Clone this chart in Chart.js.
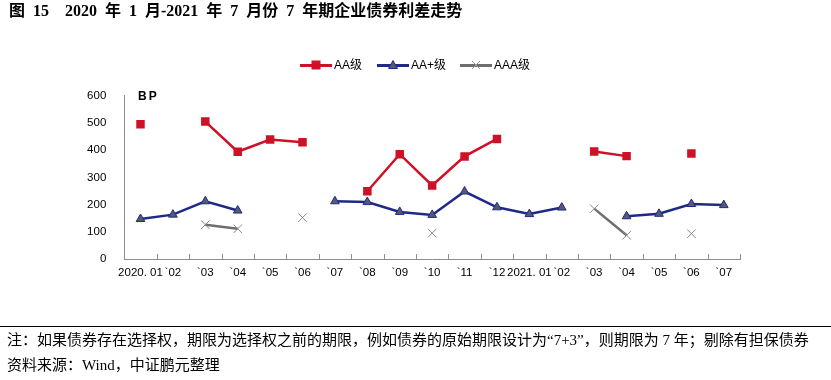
<!DOCTYPE html>
<html>
<head>
<meta charset="utf-8">
<script src="https://cdn.jsdelivr.net/npm/chart.js@4.4.1/dist/chart.umd.min.js"></script>
<style>
  html,body{margin:0;padding:0;background:#fff;}
  body{width:831px;height:380px;position:relative;overflow:hidden;font-family:"Liberation Sans","Noto Sans CJK SC",sans-serif;}
  #wrap{position:absolute;left:0;top:0;width:831px;height:380px;}
  .abs{position:absolute;white-space:nowrap;}
  #title{left:9px;top:1px;font-family:"Liberation Serif","Noto Sans CJK SC",serif;font-weight:bold;font-size:16px;line-height:20px;color:#000;word-spacing:4px;}
  #bp{left:138px;top:88px;font-size:12px;font-weight:bold;letter-spacing:2px;color:#000;line-height:16px;}
  .lg-line{position:absolute;height:3px;}
  .lg-text{position:absolute;font-size:12px;line-height:14px;color:#000;}
  #rule{position:absolute;left:0;top:326px;width:831px;height:1px;background:#000;}
  .note{font-family:"Liberation Serif","Noto Sans CJK SC",serif;font-size:15px;line-height:18px;color:#000;left:7px;}
</style>
</head>
<body>
<div id="wrap"><canvas id="c" width="831" height="380"></canvas></div>
<div id="title" class="abs">图 15<span style="display:inline-block;width:16px"></span>2020 年 1 月-2021 年 7 月份 7 年期企业债券利差走势</div>
<div id="bp" class="abs">BP</div>
<div id="legend"></div>
<div id="rule"></div>
<div class="abs note" style="top:331px">注：如果债券存在选择权，期限为选择权之前的期限，例如债券的原始期限设计为“7+3”，则期限为 7 年；剔除有担保债券</div>
<div class="abs note" style="top:356px">资料来源：Wind，中证鹏元整理</div>
<script>
const categories = ['2020. 01','`02','`03','`04','`05','`06','`07','`08','`09','`10','`11','`12','2021. 01','`02','`03','`04','`05','`06','`07'];
const seriesNames = ['AA级','AA+级','AAA级'];
const aa     = [495,null,505,394,439,429,null,249,385,270,377,441,null,null,395,378,null,388,null];
const aaPlus = [147,163,212,178,null,null,212,209,173,162,248,190,165,189,null,157,166,202,198];
const aaa    = [null,null,126,111,null,152,null,null,null,95,null,null,null,null,185,87,null,93,null];
const yTicks = [0,100,200,300,400,500,600];

const RED = '#CE1126', NAVY = '#1F2A86', GRAY = '#6E6E6E', AXIS = '#8C8C8C';

// HTML legend
const legendItems = [
  {name: seriesNames[0], color: RED, x: 300, marker: 'sq'},
  {name: seriesNames[1], color: NAVY, x: 377, marker: 'tri'},
  {name: seriesNames[2], color: GRAY, x: 460, marker: 'x'}
];
const lg = document.getElementById('legend');
legendItems.forEach(it => {
  const ly = 65;
  const line = document.createElement('div');
  line.className = 'lg-line';
  line.style.cssText = `left:${it.x}px;top:${ly-1.5}px;width:32px;background:${it.color};`;
  lg.appendChild(line);
  const svgNS = 'http://www.w3.org/2000/svg';
  const svg = document.createElementNS(svgNS, 'svg');
  svg.setAttribute('width', 12); svg.setAttribute('height', 12);
  svg.style.cssText = `position:absolute;left:${it.x+16-6}px;top:${ly-6}px;`;
  let shape;
  if (it.marker === 'sq') {
    shape = document.createElementNS(svgNS, 'rect');
    shape.setAttribute('x', 1.5); shape.setAttribute('y', 1.5); shape.setAttribute('width', 9); shape.setAttribute('height', 9);
    shape.setAttribute('fill', RED);
  } else if (it.marker === 'tri') {
    shape = document.createElementNS(svgNS, 'polygon');
    shape.setAttribute('points', '6,1.5 10.5,9.5 1.5,9.5');
    shape.setAttribute('fill', '#555A6E'); shape.setAttribute('stroke', NAVY); shape.setAttribute('stroke-width', 1);
  } else {
    shape = document.createElementNS(svgNS, 'path');
    shape.setAttribute('d', 'M2,2 L10,10 M10,2 L2,10');
    shape.setAttribute('stroke', '#9a9a9a'); shape.setAttribute('stroke-width', 1);
  }
  svg.appendChild(shape);
  lg.appendChild(svg);
  const t = document.createElement('div');
  t.className = 'lg-text';
  t.style.cssText = `left:${it.x+34}px;top:${ly-7}px;`;
  t.textContent = it.name;
  lg.appendChild(t);
});

const innerTicks = {
  id: 'innerTicks',
  afterDraw(chart) {
    const x = chart.scales.x, ctx = chart.ctx, bottom = chart.chartArea.bottom;
    const w = x.getPixelForValue(1) - x.getPixelForValue(0);
    ctx.save();
    ctx.strokeStyle = AXIS; ctx.lineWidth = 1;
    for (let i = 1; i <= categories.length; i++) {
      const px = Math.round(x.getPixelForValue(i - 1) + w / 2) + 0.5;
      ctx.beginPath(); ctx.moveTo(px, bottom); ctx.lineTo(px, bottom - 5); ctx.stroke();
    }
    ctx.restore();
  }
};

new Chart(document.getElementById('c'), {
  type: 'line',
  data: {
    labels: categories,
    datasets: [
      {label: seriesNames[0], data: aa, borderColor: RED, backgroundColor: RED, borderWidth: 2.5,
       pointStyle: 'rect', pointRadius: 6, pointBorderWidth: 0, pointBackgroundColor: RED, spanGaps: false, tension: 0},
      {label: seriesNames[1], data: aaPlus, borderColor: NAVY, backgroundColor: '#555A6E', borderWidth: 2.5,
       pointStyle: 'triangle', pointRadius: 5, pointBorderWidth: 1, pointBorderColor: NAVY, pointBackgroundColor: '#555A6E', spanGaps: false, tension: 0},
      {label: seriesNames[2], data: aaa, borderColor: GRAY, backgroundColor: GRAY, borderWidth: 2.5,
       pointStyle: 'crossRot', pointRadius: 6, pointBorderWidth: 1, pointBorderColor: '#8a8a8a', spanGaps: false, tension: 0}
    ]
  },
  options: {
    responsive: false,
    animation: false,
    devicePixelRatio: 1,
    layout: {padding: {left: 0, right: 91, top: 95.7, bottom: 91}},
    plugins: {legend: {display: false}, title: {display: false}, tooltip: {enabled: false}},
    scales: {
      x: {
        offset: true,
        grid: {display: false, offset: true, drawTicks: false, tickLength: 0},
        border: {display: true, color: AXIS, width: 1},
        ticks: {autoSkip: false, maxRotation: 0, minRotation: 0, padding: 7, color: '#000',
                font: {family: 'Liberation Sans', size: 11.5}},
        afterFit(s) { s.height = 30; }
      },
      y: {
        min: 0, max: 600,
        afterBuildTicks(s) { s.ticks = yTicks.map(v => ({value: v})); },
        grid: {display: false, drawTicks: false, tickLength: 0},
        border: {display: true, color: AXIS, width: 1},
        ticks: {padding: 18, color: '#000', font: {family: 'Liberation Sans', size: 11.5}},
        afterFit(s) { s.width = 124.3; }
      }
    }
  },
  plugins: [innerTicks]
});
</script>
</body>
</html>
